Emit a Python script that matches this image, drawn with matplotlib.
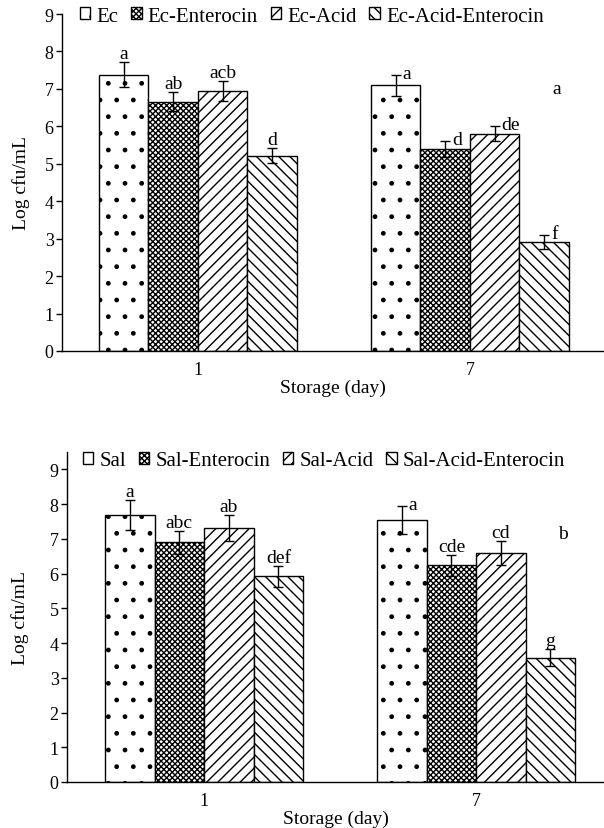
import numpy as np
import matplotlib.pyplot as plt

plt.rcParams['font.family'] = ['Liberation Serif', 'DejaVu Serif']
plt.rcParams['hatch.linewidth'] = 1.0
plt.rcParams['axes.linewidth'] = 1.0

# storage days on the x axis
days = ['1', '7']

# E. coli panel: one list per treatment, values for day 1 and day 7
ec_names = ['Ec', 'Ec-Enterocin', 'Ec-Acid', 'Ec-Acid-Enterocin']
ec_mean = [[7.38, 7.10], [6.66, 5.40], [6.95, 5.80], [5.22, 2.92]]
ec_err = [[0.33, 0.28], [0.25, 0.22], [0.27, 0.20], [0.21, 0.19]]
ec_letters = [['a', 'a'], ['ab', 'd'], ['acb', 'de'], ['d', 'f']]
ec_side = [['up', 'right'], ['up', 'right'], ['up', 'right'], ['up', 'right']]
ec_extra = ('a', 1.32, 7.0)

# Salmonella panel
sal_names = ['Sal', 'Sal-Enterocin', 'Sal-Acid', 'Sal-Acid-Enterocin']
sal_mean = [[7.68, 7.54], [6.90, 6.24], [7.32, 6.60], [5.92, 3.58]]
sal_err = [[0.43, 0.41], [0.33, 0.30], [0.38, 0.34], [0.30, 0.24]]
sal_letters = [['a', 'a'], ['abc', 'cde'], ['ab', 'cd'], ['def', 'g']]
sal_side = [['up', 'right'], ['up', 'up'], ['up', 'up'], ['up', 'up']]
sal_extra = ('b', 1.32, 7.14)

hatches = ['.', 'xxxxxx', '///', '\\\\\\']
width = 0.182

fig = plt.figure(figsize=(6.04, 8.29), dpi=100)


def panel(ax, names, means, errs, letters, sides, extra, ymax, xlim, leg_xy):
    x = np.arange(len(days))
    handles = []
    for i, name in enumerate(names):
        pos = x + (i - 1.5) * width
        b = ax.bar(pos, means[i], width, color='white', edgecolor='black',
                   linewidth=1.0, hatch=hatches[i], label=name)
        handles.append(b)
        ax.errorbar(pos, means[i], yerr=errs[i], fmt='none', ecolor='black',
                    elinewidth=1.0, capsize=3.5, capthick=1.0)
        for j in range(len(days)):
            top = means[i][j] + errs[i][j]
            if sides[i][j] == 'up':
                ax.annotate(letters[i][j], (pos[j], top), xytext=(0, 0),
                            textcoords='offset points', ha='center',
                            va='bottom', fontsize=14)
            else:
                ax.annotate(letters[i][j], (pos[j], top), xytext=(5, 1),
                            textcoords='offset points', ha='left',
                            va='center', fontsize=14)
    ax.text(extra[1], extra[2], extra[0], ha='center', va='center', fontsize=14)

    ax.set_xlim(*xlim)
    ax.set_ylim(0, ymax)
    ax.set_yticks(range(10))
    ax.set_xticks(x)
    ax.set_xticklabels(days)
    ax.tick_params(axis='x', length=0, pad=7, labelsize=13)
    ax.tick_params(axis='y', direction='out', length=4, width=1, pad=2,
                   labelsize=13)
    for s in ['top', 'right']:
        ax.spines[s].set_visible(False)
    ax.set_xlabel('Storage (day)', fontsize=14, labelpad=1)
    ax.set_ylabel('Log cfu/mL', fontsize=14)

    fig.legend(handles=handles, loc='center left', bbox_to_anchor=leg_xy,
               ncol=4, frameon=False, fontsize=15, handlelength=0.5,
               handleheight=0.5, handletextpad=0.3, columnspacing=0.6,
               borderpad=0, borderaxespad=0)


ax1 = fig.add_axes([62 / 604, 1 - 352 / 829, 542 / 604, 337 / 829])
panel(ax1, ec_names, ec_mean, ec_err, ec_letters, ec_side, ec_extra, 9,
      (-0.5, 1.493), (80 / 604, 1 - 17 / 829))
ax1.yaxis.set_label_coords(-32 / 542, 0.5)

ax2 = fig.add_axes([67 / 604, 1 - 783 / 829, 537 / 604, 330 / 829])
panel(ax2, sal_names, sal_mean, sal_err, sal_letters, sal_side, sal_extra, 9.5,
      (-0.504, 1.47), (83 / 604, 1 - 462 / 829))
ax2.yaxis.set_label_coords(-38 / 537, 0.5)

fig.savefig('out.png', dpi=100)
